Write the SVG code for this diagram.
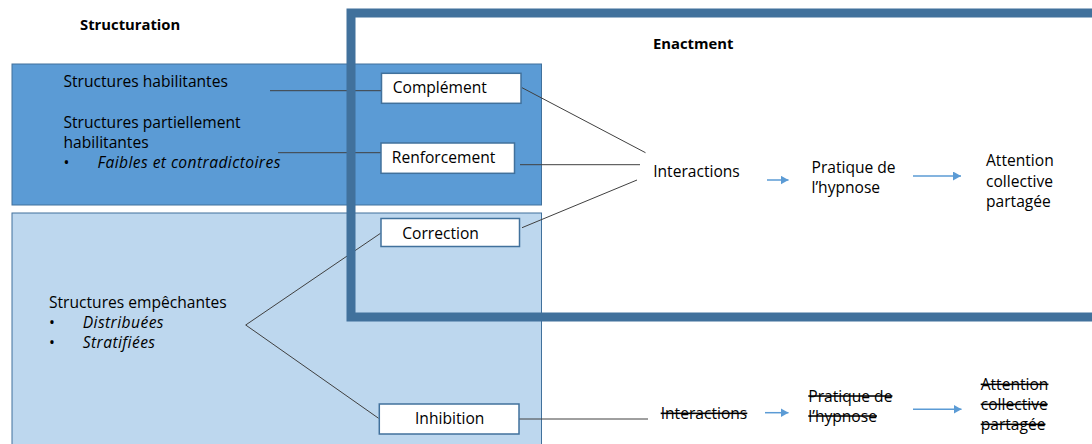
<svg xmlns="http://www.w3.org/2000/svg" width="1092" height="444" viewBox="0 0 1092 444">
<style>
text{font-family:"Open Sans","Liberation Sans",sans-serif;font-size:15.6px;fill:#000}
.b{font-weight:bold;font-size:14.8px}
.i{font-style:italic;letter-spacing:0.43px}
.s{text-decoration:line-through}
.node{fill:#fff;stroke:#41719c;stroke-width:1.5}
.con{stroke:#404040;stroke-width:1;fill:none}
.arr{stroke:#5b9bd5;stroke-width:1.5;fill:none;marker-end:url(#ah)}
</style>
<defs>
<marker id="ah" markerUnits="userSpaceOnUse" markerWidth="9" markerHeight="9" refX="8" refY="4.5" orient="auto">
<path d="M0,0 L8,4.5 L0,9 Z" fill="#5b9bd5"/>
</marker>
</defs>
<rect width="1092" height="444" fill="#fff"/>
<g id="structuration">
<text class="b" x="80" y="30">Structuration</text>
</g>
<g id="habilitantes-panel">
<rect x="12" y="64" width="529.5" height="141" fill="#5b9bd5" stroke="#41719c" stroke-width="1"/>
<text x="63.5" y="87.3">Structures habilitantes</text>
<text x="63.5" y="128.3">Structures partiellement<tspan x="63.5" dy="20">habilitantes</tspan><tspan x="63.5" dy="20">•</tspan><tspan class="i" x="97.5">Faibles et contradictoires</tspan></text>
</g>
<g id="empechantes-panel">
<rect x="12" y="213" width="529.5" height="240" fill="#bdd7ee" stroke="#41719c" stroke-width="1"/>
<text x="49" y="308.3">Structures empêchantes<tspan x="49" dy="20">•</tspan><tspan class="i" x="82.7">Distribuées</tspan><tspan x="49" dy="20">•</tspan><tspan class="i" x="82.7">Stratifiées</tspan></text>
</g>
<g id="connectors">
<line class="con" x1="270" y1="90.7" x2="381" y2="90.7"/>
<line class="con" x1="278" y1="152.7" x2="381" y2="152.7"/>
<line class="con" x1="522" y1="87.7" x2="645.5" y2="152.7"/>
<line class="con" x1="520" y1="164.7" x2="640" y2="164.7"/>
<line class="con" x1="522" y1="227.7" x2="637" y2="180"/>
<polyline class="con" points="380.5,233.3 245.7,325 378.6,418.3"/>
<line class="con" x1="519" y1="419" x2="648" y2="419"/>
<line class="arr" x1="767" y1="180" x2="788.5" y2="180"/>
<line class="arr" x1="913" y1="176" x2="961" y2="176"/>
<line class="arr" x1="765" y1="412.7" x2="788.5" y2="412.7"/>
<line class="arr" x1="913" y1="409.3" x2="961.5" y2="409.3"/>
</g>
<g id="enactment-frame">
<rect x="351" y="13" width="800" height="304" fill="none" stroke="#41719c" stroke-width="9"/>
<text class="b" x="653" y="49">Enactment</text>
</g>
<g id="complement">
<rect class="node" x="381.5" y="73.3" width="139.5" height="30"/>
<text x="392.7" y="93.3">Complément</text>
</g>
<g id="renforcement">
<rect class="node" x="381" y="143" width="133.5" height="30.3"/>
<text x="391.8" y="163.3">Renforcement</text>
</g>
<g id="correction">
<rect class="node" x="381" y="218.5" width="138.5" height="28"/>
<text x="402.3" y="239">Correction</text>
</g>
<g id="inhibition">
<rect class="node" x="379.3" y="404" width="139.7" height="30"/>
<text x="415" y="424">Inhibition</text>
</g>
<g id="interactions">
<text x="653.2" y="177.3">Interactions</text>
</g>
<g id="pratique">
<text x="811.5" y="172.8">Pratique de<tspan x="811.5" dy="20.6">l’hypnose</tspan></text>
</g>
<g id="attention">
<text x="986" y="166">Attention<tspan x="986" dy="20.5">collective</tspan><tspan x="986" dy="20.5">partagée</tspan></text>
</g>
<g id="interactions-struck">
<text class="s" x="660.7" y="419">Interactions</text>
</g>
<g id="pratique-struck">
<text class="s" x="808.3" y="401.7">Pratique de<tspan x="808.3" dy="20">l’hypnose</tspan></text>
</g>
<g id="attention-struck">
<text class="s" x="980.7" y="390">Attention<tspan x="980.7" dy="20">collective</tspan><tspan x="980.7" dy="20">partagée</tspan></text>
</g>
</svg>
